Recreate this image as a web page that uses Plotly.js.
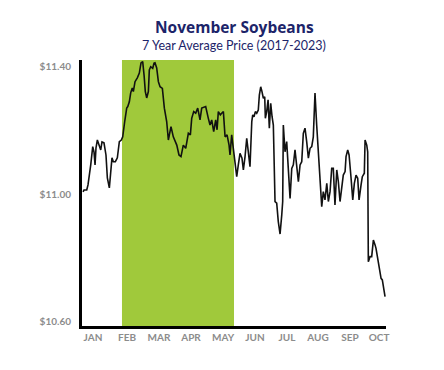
<!DOCTYPE html>
<html>
<head>
<meta charset="utf-8">
<script src="https://cdn.plot.ly/plotly-3.0.1.min.js"></script>
<style>html,body{margin:0;padding:0;background:#fff;}#chart{width:444px;height:370px;}</style>
</head>
<body>
<div id="chart"></div>
<script>
// Day of year (approx.) and 7-year average price ($/bu)
const dayOfYear = [3.2,4.1,6.7,7.9,10.5,12.4,13.6,14.6,15.5,16.8,18.4,20.0,21.2,23.1,25.0,26.3,28.2,29.5,30.7,32.0,33.9,35.8,37.7,39.6,40.9,42.8,44.7,45.7,47.2,48.5,50.0,51.0,52.6,54.8,56.7,58.3,59.9,61.2,62.4,63.7,65.3,66.2,67.5,69.4,70.7,71.6,73.2,74.8,76.4,78.6,80.5,82.7,84.3,86.8,89.0,92.3,94.4,96.3,98.5,100.8,103.3,105.2,106.5,108.4,110.3,112.2,114.4,116.0,119.8,122.3,123.9,125.5,127.4,129.3,130.6,131.8,133.7,135.0,136.6,138.2,140.1,142.0,142.9,144.5,146.1,147.7,149.3,150.8,152.4,154.3,155.6,157.2,158.8,160.3,161.9,163.6,164.5,165.7,167.0,168.3,169.8,170.8,172.1,173.3,174.6,175.9,176.5,177.8,179.1,180.3,181.6,182.9,184.1,185.7,187.3,188.8,190.5,192.1,193.0,193.6,195.2,196.8,198.4,200.0,201.6,203.1,204.7,206.3,207.9,209.5,211.1,212.6,214.2,215.8,217.4,219.0,220.6,222.1,223.7,225.3,227.5,230.1,231.6,233.2,234.9,236.4,238.0,239.6,241.1,242.7,244.4,245.9,247.5,249.1,250.6,252.3,253.2,254.8,256.1,258.0,259.6,261.1,262.7,264.3,265.6,267.5,268.7,270.6,271.3,272.9,273.8,274.4,276.0,277.6,279.2,280.8,281.7,283.3,284.6,286.5,287.7,289.0,290.3];
const avgPrice = [11.007,11.013,11.013,11.029,11.092,11.149,11.133,11.092,11.145,11.170,11.154,11.139,11.164,11.161,11.123,11.051,11.020,11.060,11.114,11.102,11.102,11.114,11.165,11.170,11.180,11.228,11.270,11.275,11.290,11.318,11.333,11.322,11.353,11.365,11.380,11.412,11.416,11.374,11.322,11.302,11.322,11.390,11.400,11.395,11.411,11.412,11.396,11.353,11.337,11.332,11.270,11.228,11.170,11.212,11.180,11.154,11.123,11.118,11.154,11.144,11.191,11.186,11.238,11.259,11.254,11.270,11.233,11.270,11.275,11.238,11.217,11.233,11.196,11.233,11.202,11.259,11.249,11.254,11.259,11.180,11.186,11.154,11.123,11.186,11.144,11.092,11.055,11.092,11.128,11.113,11.076,11.118,11.175,11.133,11.086,11.228,11.249,11.243,11.259,11.254,11.264,11.311,11.337,11.322,11.301,11.306,11.238,11.259,11.296,11.207,11.285,11.243,11.217,10.977,10.972,10.914,10.875,10.935,10.977,11.217,11.133,11.165,11.092,10.987,11.081,11.092,11.139,11.092,11.039,11.092,11.102,11.191,11.207,11.165,11.113,11.144,11.149,11.180,11.317,11.217,11.092,10.961,11.008,10.982,11.034,10.977,11.008,11.081,11.081,10.966,11.076,11.039,10.977,11.029,11.060,11.071,11.118,11.139,11.123,11.050,10.982,11.034,11.060,11.050,10.982,11.029,11.055,11.066,11.170,11.154,11.133,10.788,10.804,10.804,10.856,10.841,10.830,10.799,10.768,10.736,10.731,10.710,10.679];

const monthLabels = ['JAN','FEB','MAR','APR','MAY','JUN','JUL','AUG','SEP','OCT'];
const monthTickDays = [12.7,45,75.4,105.8,136.3,166.7,197.1,226.6,257,284.6];
const priceTicks = [10.6, 11.0, 11.4];
const priceTickLabels = ['$10.60','$11.00','$11.40'];
const highlightStart = 40.2, highlightEnd = 146.7;

const trace = {
  x: dayOfYear, y: avgPrice, type: 'scatter', mode: 'lines',
  line: {color: '#111111', width: 1.6}, hoverinfo: 'skip'
};

const tickFont = {family: 'Lato, sans-serif', size: 10, color: '#8c8c8c', weight: 700};

const layout = {
  width: 444, height: 370,
  margin: {l: 82, r: 58, t: 60, b: 44},
  paper_bgcolor: '#ffffff', plot_bgcolor: '#ffffff',
  showlegend: false,
  xaxis: {
    range: [2.2, 291.2], showgrid: false, zeroline: false,
    showline: true, linecolor: '#000000', linewidth: 3,
    tickvals: monthTickDays, ticktext: monthLabels, ticks: '',
    tickfont: tickFont, ticklabelstandoff: 0
  },
  yaxis: {
    range: [10.5865, 11.421], showgrid: false, zeroline: false,
    showline: true, linecolor: '#000000', linewidth: 3,
    tickvals: priceTicks, ticktext: priceTickLabels, ticks: '',
    tickfont: tickFont, ticklabelstandoff: 6
  },
  shapes: [{
    type: 'rect', xref: 'x', yref: 'paper',
    x0: highlightStart, x1: highlightEnd, y0: 0, y1: 1,
    fillcolor: '#a0c93b', line: {width: 0}, layer: 'below'
  }],
  annotations: [
    {text: 'November Soybeans', xref: 'paper', yref: 'paper', x: 0.5, y: 1.125,
     xanchor: 'center', yanchor: 'middle', showarrow: false,
     font: {family: '"Open Sans", sans-serif', size: 15.5, color: '#1c2469', weight: 700}},
    {text: '7 Year Average Price (2017-2023)', xref: 'paper', yref: 'paper', x: 0.5, y: 1.055,
     xanchor: 'center', yanchor: 'middle', showarrow: false,
     font: {family: 'Lato, sans-serif', size: 12.5, color: '#1c2469'}}
  ]
};

Plotly.newPlot('chart', [trace], layout, {displayModeBar: false, staticPlot: true});
</script>
</body>
</html>
